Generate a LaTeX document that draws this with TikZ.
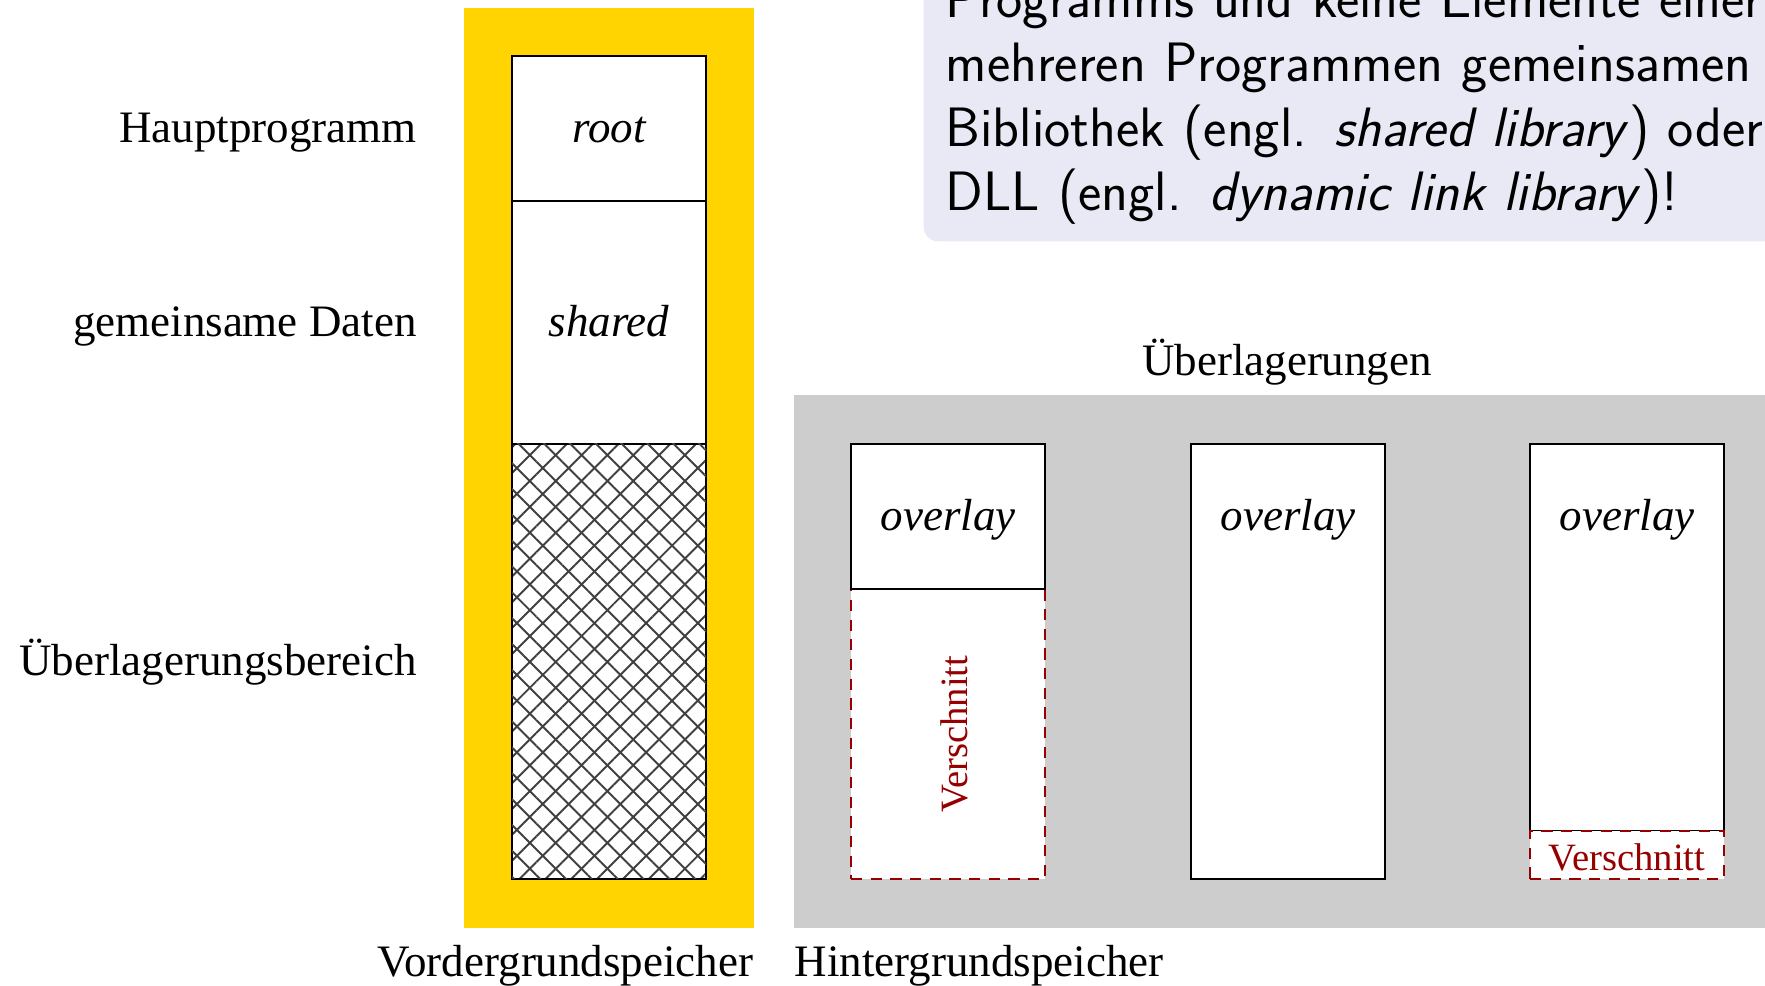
\documentclass[tikz,border=0pt]{standalone}
\usepackage{fontspec}
\setmainfont{Liberation Serif}
\usepackage{tikz}
\usetikzlibrary{calc, positioning, patterns.meta}
\definecolor{vordergelb}{RGB}{255,212,0}
\definecolor{hintergrau}{RGB}{205,205,205}
\definecolor{verschnittrot}{RGB}{150,0,0}
\definecolor{hinweisblau}{RGB}{233,233,245}

\begin{document}
\begin{tikzpicture}[font=\fontsize{12.8}{15}\selectfont,
    flaeche/.style={inner sep=0pt, outer sep=0pt},
    mitte/.style={text height=9.4pt, text depth=1.2pt},
    zelle/.style={draw, line width=0.6pt, fill=white, inner sep=0pt, outer sep=0pt, minimum width=1.94cm, mitte},
    rest/.style={draw=verschnittrot, dash pattern=on 3.2pt off 2.4pt, line width=0.65pt, fill=white,
      text=verschnittrot, inner sep=0pt, outer sep=0pt, minimum width=1.94cm},
    resttext/.style={text=verschnittrot, font=\fontsize{11}{13}\selectfont, text height=8.6pt, text depth=0pt},
    gitter/.style={preaction={fill=white},
      pattern={Lines[angle=45, distance=5.2pt, line width=0.55pt]}, pattern color=black!75,
      postaction={pattern={Lines[angle=-45, distance=5.2pt, line width=0.55pt]}, pattern color=black!75}},
    hinweisbox/.style={fill=hinweisblau, rounded corners=4pt, align=left, inner xsep=0.22cm, inner ysep=0.17cm,
      text width=9.2cm, font=\sffamily\fontsize{15.8}{18.3}\selectfont}]
  \useasboundingbox (0,0) rectangle (17.65,9.85);

  % Hinweis oben rechts
  \node[hinweisbox, anchor=south west] (hinweis) at (9.23,7.43)
    {Programms und keine Elemente einer\\
     mehreren Programmen gemeinsamen\\
     Bibliothek (engl. \emph{shared library}) oder\\
     DLL (engl. \emph{dynamic link library})!};

  % Vordergrundspeicher
  \node[flaeche, fill=vordergelb, minimum width=2.9cm, minimum height=9.2cm, anchor=south west] (vorder) at (4.64,0.57) {};
  \node[zelle, minimum height=1.45cm, anchor=north west] (root) at (5.12,9.29) {\itshape root};
  \node[zelle, minimum height=2.43cm, below=0pt of root] (shared) {\itshape shared};
  \node[zelle, gitter, minimum height=4.35cm, below=0pt of shared] (bereich) {};
  \node[mitte, left=0.83cm of root] (haupt) {Hauptprogramm};
  \node[mitte, left=0.83cm of shared] (daten) {gemeinsame Daten};
  \node[mitte, left=0.83cm of bereich] (ueberbereich) {Überlagerungsbereich};
  \node[anchor=north east, inner xsep=0pt, inner ysep=0.17cm] (vorderlabel) at (vorder.south east) {Vordergrundspeicher};

  % Hintergrundspeicher
  \node[flaeche, fill=hintergrau, minimum width=9.86cm, minimum height=5.33cm, anchor=south west] (grau) at (7.94,0.57) {};
  \node[above=0pt of grau, inner sep=2.7pt] (titel) {Überlagerungen};
  \node[anchor=north west, inner xsep=0pt, inner ysep=0.17cm] (hinterlabel) at (grau.south west) {Hintergrundspeicher};

  % erste Ueberlagerung
  \node[rest, minimum height=2.90cm, anchor=south west] (rest1) at (8.51,1.06) {};
  \node[resttext, rotate=90, text height=11pt] (rest1text) at (rest1.center) {Verschnitt};
  \node[zelle, minimum height=1.45cm, above=0pt of rest1] (ueber1) {\itshape overlay};

  % zweite Ueberlagerung
  \node[zelle, minimum height=4.35cm, anchor=south west] (spalte2) at (11.91,1.06) {};
  \node[flaeche, mitte, minimum width=1.94cm, minimum height=1.45cm, anchor=north] (ueber2) at (spalte2.north) {\itshape overlay};

  % dritte Ueberlagerung
  \node[zelle, minimum height=3.87cm, anchor=south west] (spalte3) at (15.30,1.54) {};
  \node[flaeche, mitte, minimum width=1.94cm, minimum height=1.45cm, anchor=north] (ueber3) at (spalte3.north) {\itshape overlay};
  \node[rest, minimum height=0.48cm, below=0pt of spalte3] (rest3) {};
  \node[resttext] (rest3text) at (rest3.center) {Verschnitt};
\end{tikzpicture}
\end{document}
